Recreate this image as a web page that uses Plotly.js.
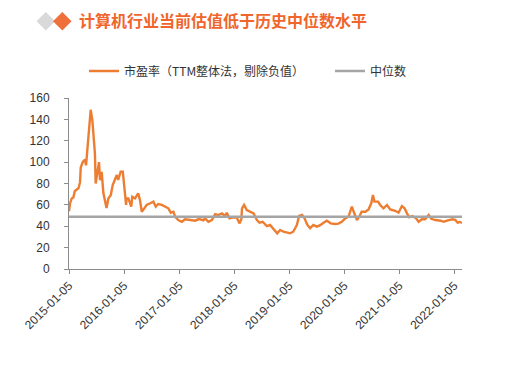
<!DOCTYPE html>
<html>
<head>
<meta charset="utf-8">
<script src="https://cdn.plot.ly/plotly-3.0.1.min.js"></script>
<style>html,body{margin:0;padding:0;background:#fff;}#chart{width:531px;height:370px;}</style>
</head>
<body>
<div id="chart"></div>
<script>
// ---- data ----
var chartTitle = "计算机行业当前估值低于历史中位数水平";
var seriesName = "市盈率（TTM整体法，剔除负值）";
var medianName = "中位数";
var dates = [
"2015-01-05","2015-01-12","2015-01-23","2015-02-03","2015-02-13","2015-03-09","2015-03-19","2015-03-24",
"2015-04-06","2015-04-21","2015-04-28","2015-05-07","2015-05-20","2015-05-29","2015-06-09","2015-06-15",
"2015-06-26","2015-07-01","2015-07-13","2015-07-23","2015-07-30","2015-08-10","2015-08-21","2015-09-01",
"2015-09-11","2015-09-23","2015-10-09","2015-10-22","2015-11-06","2015-11-18","2015-11-27","2015-12-14",
"2015-12-28","2016-01-05","2016-01-12","2016-01-19","2016-01-22","2016-02-03","2016-02-22","2016-02-29",
"2016-03-18","2016-04-08","2016-04-20","2016-05-02","2016-05-19","2016-06-03","2016-06-27","2016-07-18",
"2016-08-03","2016-08-19","2016-09-12","2016-10-10","2016-10-25","2016-11-11","2016-11-28","2016-12-09",
"2016-12-30","2017-01-23","2017-02-13","2017-03-20","2017-04-21","2017-05-12","2017-05-24","2017-06-15",
"2017-06-26","2017-07-18","2017-08-10","2017-09-01","2017-09-22","2017-10-16","2017-11-06","2017-11-17",
"2017-12-05","2018-01-02","2018-01-23","2018-02-09","2018-02-22","2018-02-26","2018-03-12","2018-03-30",
"2018-04-20","2018-05-14","2018-06-05","2018-06-22","2018-07-13","2018-08-10","2018-08-31","2018-09-21",
"2018-10-18","2018-11-06","2018-11-28","2018-12-25","2019-01-11","2019-02-01","2019-02-25","2019-03-12",
"2019-04-01","2019-04-17","2019-05-06","2019-05-24","2019-06-14","2019-07-08","2019-07-30","2019-08-21",
"2019-09-12","2019-10-08","2019-11-06","2019-11-28","2019-12-20","2020-01-13","2020-02-03","2020-02-14",
"2020-02-25","2020-03-12","2020-03-30","2020-04-14","2020-04-30","2020-05-25","2020-06-15","2020-07-03",
"2020-07-14","2020-07-24","2020-08-17","2020-08-31","2020-09-22","2020-10-15","2020-11-06","2020-12-09",
"2020-12-31","2021-01-22","2021-02-09","2021-02-25","2021-03-12","2021-04-02","2021-04-26","2021-05-13",
"2021-06-04","2021-06-25","2021-07-19","2021-08-05","2021-09-01","2021-10-08","2021-10-26","2021-11-29",
"2021-12-24","2022-01-11","2022-01-28","2022-02-09","2022-02-25"
];
var peValues = [
54,61.5,66,67,73,75.5,81,95,
100,102.5,97,114,138,149,139,124,
108,80,92.6,100,83,91,71,61.5,
57,66,69,78.6,85,88,83.3,91,
91,77,70.8,60,66,66,58.3,67.6,
66,70.8,64.5,53.6,56.8,60,61.5,63,
58.3,60.8,60,58.3,56.8,52.7,53.6,48.9,
45.8,44.2,46.5,45.8,45.2,46.5,46.5,45.5,
47.4,44.2,45.8,51.4,50.5,52.1,49.6,52.7,
47.4,48.4,48,42.7,46.5,56.8,59.9,55.2,
53.6,52.1,45.8,43.3,44.2,40.2,41.2,38.1,
33.4,36.5,34.9,34,33.4,34.9,41.2,49.6,
50.5,47.4,41.2,38.1,41.2,39.6,41,43.3,
45.2,42.7,42.1,42.5,44.2,47.4,48.9,53.6,
58.3,52.1,45.8,48.9,53.6,53.6,55.8,61.5,
69.2,63,63,59.9,56.8,59.9,55.8,54.5,
52.7,58.9,56.8,52.1,48.4,49.6,47.4,44.2,
46.5,46.5,50.5,47,45.8,45.2,44.2,45.8,
46.5,46,43.3,44.2,43
];
var medianValue = 49;
var tickDates = ["2015-01-05","2016-01-05","2017-01-05","2018-01-05","2019-01-05","2020-01-05","2021-01-05","2022-01-05"];
var yTicks = [0,20,40,60,80,100,120,140,160];

// ---- layout geometry ----
var W = 531, H = 370, mL = 69, mR = 69, mT = 98, mB = 101;
var pw = W - mL - mR, ph = H - mT - mB;
function px(x){ return (x - mL) / pw; }
function py(y){ return (H - mB - y) / ph; }
function diamond(cx, cy, r){
  return 'M' + px(cx - r) + ',' + py(cy) + ' L' + px(cx) + ',' + py(cy - r) +
         ' L' + px(cx + r) + ',' + py(cy) + ' L' + px(cx) + ',' + py(cy + r) + ' Z';
}

var traces = [
  {
    x: dates, y: peValues, type: 'scatter', mode: 'lines', name: seriesName,
    line: {color: '#ED7D31', width: 2.4}, hoverinfo: 'skip', legend: 'legend'
  },
  {
    x: [dates[0], dates[dates.length - 1]], y: [medianValue, medianValue],
    type: 'scatter', mode: 'lines', name: medianName,
    line: {color: '#A5A5A5', width: 2.5}, hoverinfo: 'skip', legend: 'legend2'
  }
];

var tickFont = {family: 'Liberation Sans, Arial, sans-serif', size: 12, color: '#333333'};
var legendFont = {family: 'Noto Sans CJK SC, sans-serif', size: 12, color: '#333333'};

var layout = {
  width: W, height: H,
  margin: {l: mL, r: mR, t: mT, b: mB, pad: 0},
  paper_bgcolor: '#ffffff', plot_bgcolor: '#ffffff',
  title: {
    text: '<b>' + chartTitle + '</b>',
    font: {family: 'Noto Sans CJK SC, sans-serif', size: 16, color: '#F0652B'},
    x: 79 / W, xref: 'container', xanchor: 'left',
    y: 1 - 21.5 / H, yref: 'container', yanchor: 'middle'
  },
  showlegend: true,
  legend: {
    orientation: 'h', x: px(84), xanchor: 'left', y: py(71), yanchor: 'middle',
    font: legendFont, bgcolor: 'rgba(0,0,0,0)', borderwidth: 0
  },
  legend2: {
    orientation: 'h', x: px(330), xanchor: 'left', y: py(71), yanchor: 'middle',
    font: legendFont, bgcolor: 'rgba(0,0,0,0)', borderwidth: 0
  },
  xaxis: {
    type: 'date',
    range: [dates[0], dates[dates.length - 1]],
    tickvals: tickDates, ticktext: tickDates,
    tickangle: -45, tickfont: tickFont,
    showgrid: false, zeroline: false,
    showline: true, linecolor: '#8c8c8c', linewidth: 1,
    ticks: 'outside', ticklen: 4, tickcolor: '#8c8c8c', tickwidth: 1
  },
  yaxis: {
    range: [0, 160], tickvals: yTicks, tickfont: tickFont,
    showgrid: false, zeroline: false,
    showline: true, linecolor: '#8c8c8c', linewidth: 1,
    ticks: 'outside', ticklen: 4, tickcolor: '#8c8c8c', tickwidth: 1,
    ticklabelstandoff: 12
  },
  shapes: [
    {type: 'path', xref: 'paper', yref: 'paper', path: diamond(45.8, 21.3, 9.3),
     fillcolor: '#D9D9D9', line: {width: 0}, layer: 'above'},
    {type: 'path', xref: 'paper', yref: 'paper', path: diamond(62.3, 21.3, 9.3),
     fillcolor: '#F0703C', line: {width: 0}, layer: 'above'}
  ]
};

Plotly.newPlot('chart', traces, layout, {staticPlot: true, displayModeBar: false});
</script>
</body>
</html>
